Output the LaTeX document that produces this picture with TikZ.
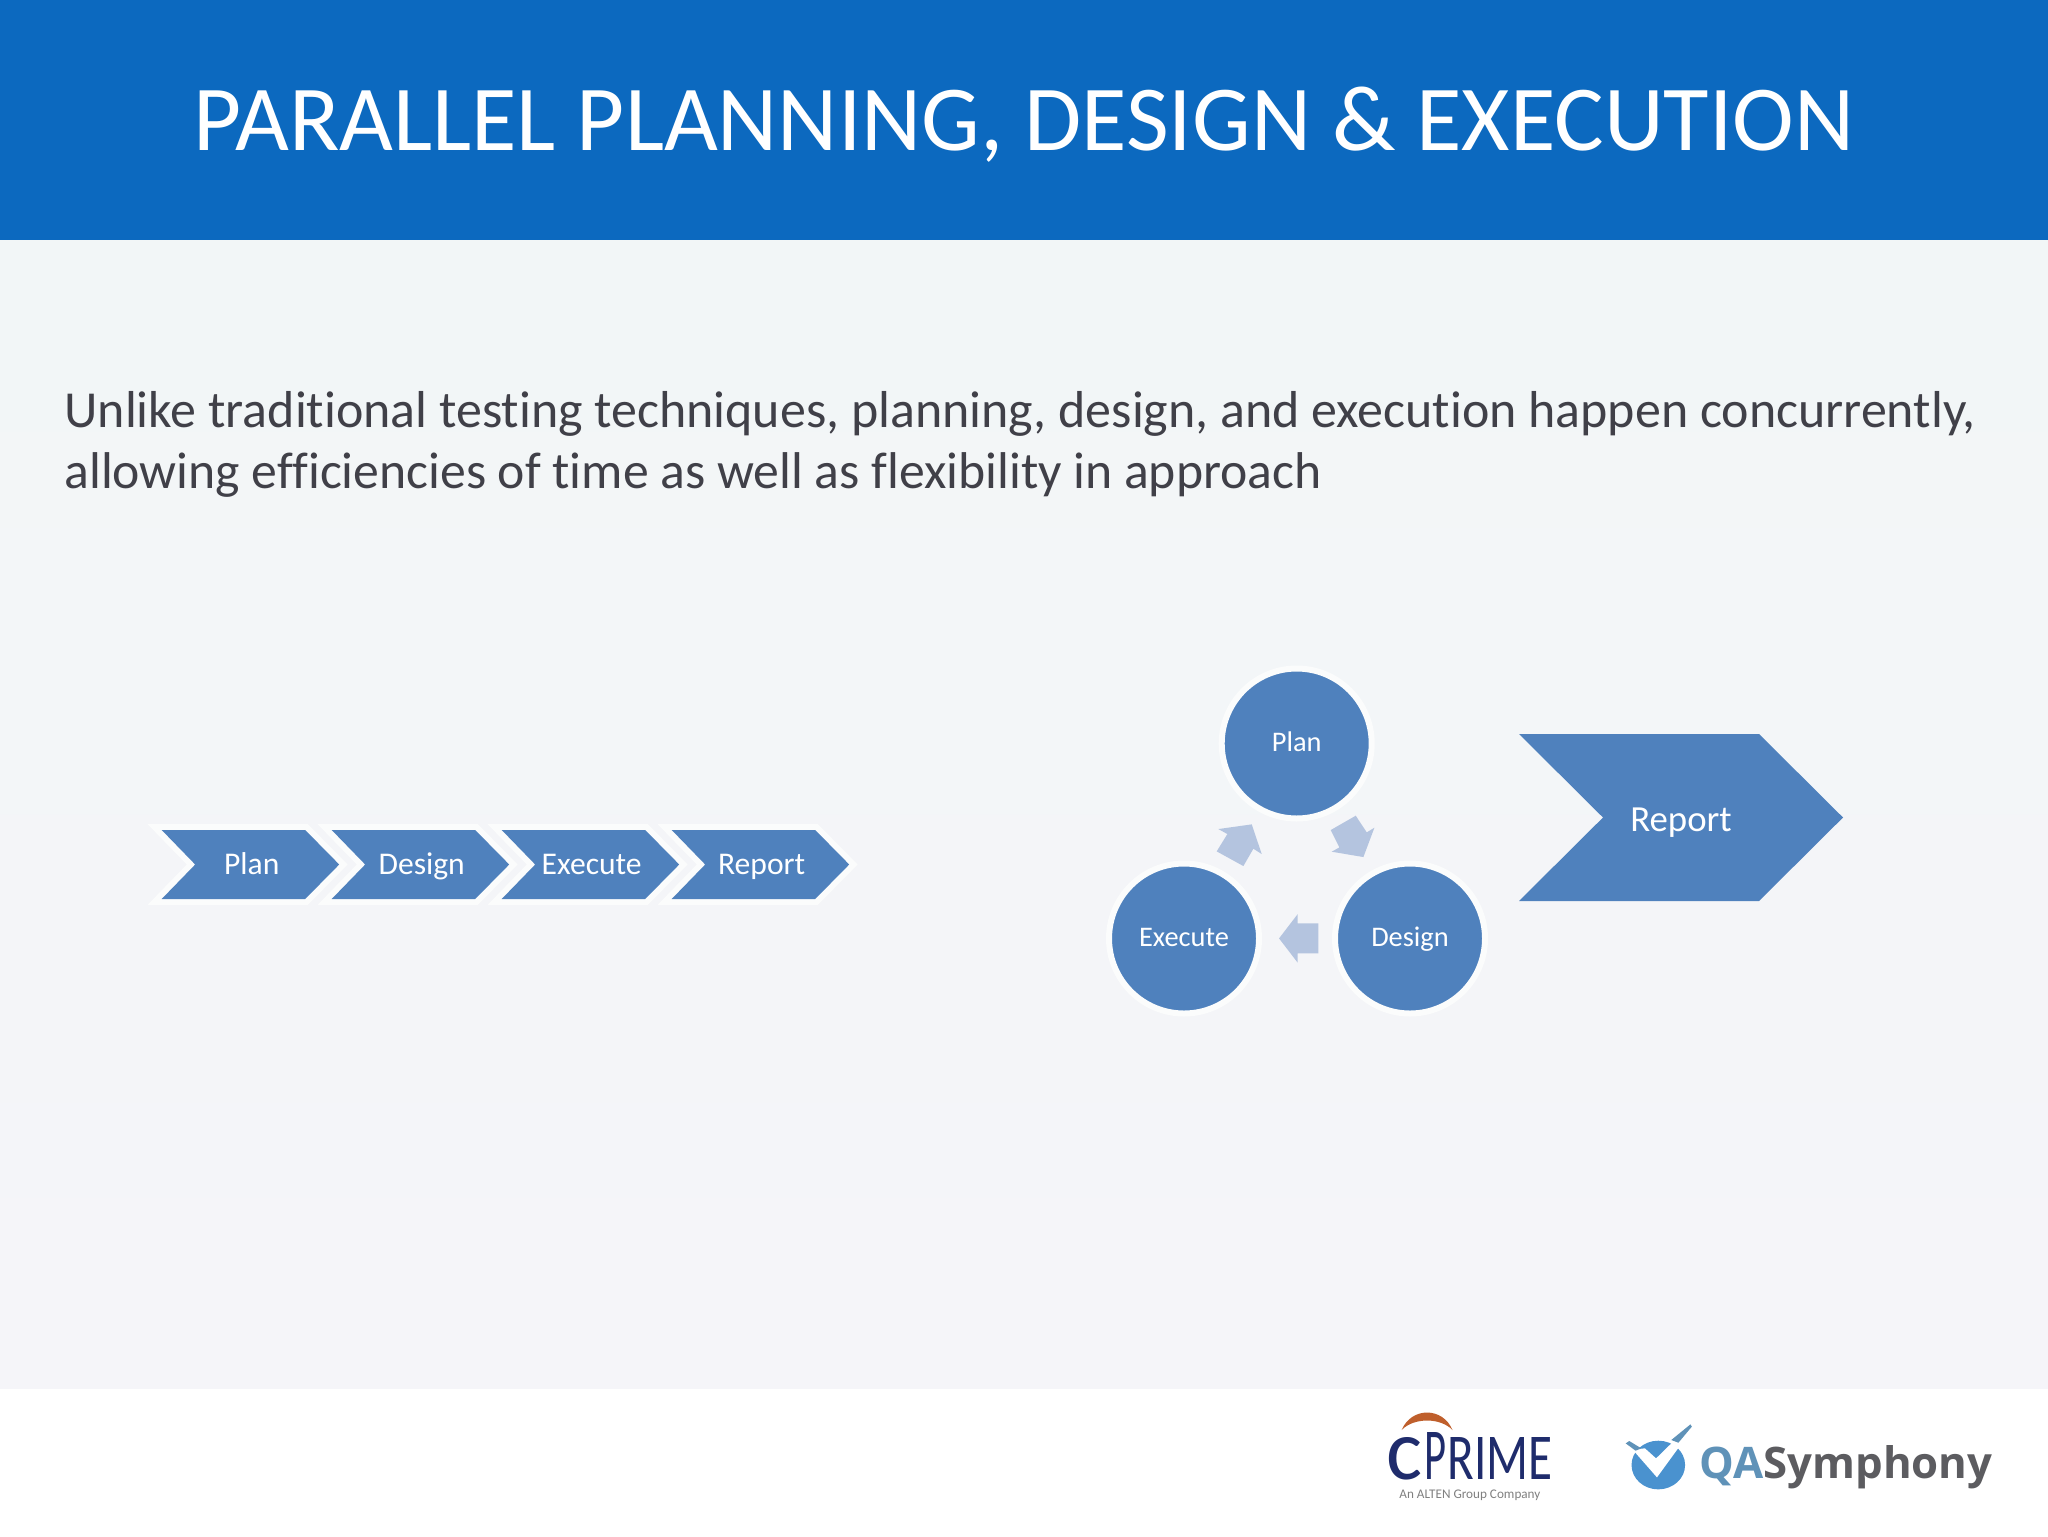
\documentclass[tikz,border=0pt]{standalone}
\usepackage{fontspec}
\setmainfont[Ligatures=NoCommon]{Carlito}
\newfontfamily\qafont{Open Sans}
\definecolor{banner}{HTML}{0C69BF}
\definecolor{bgtop}{HTML}{F2F6F7}
\definecolor{bgbot}{HTML}{F5F5F9}
\definecolor{chev}{HTML}{4F81BD}
\definecolor{halo}{HTML}{FBFCFC}
\definecolor{pale}{HTML}{B4C4DF}
\definecolor{bodytext}{HTML}{404048}
\definecolor{navy}{HTML}{1F2C6C}
\definecolor{rust}{HTML}{BF5F2C}
\definecolor{qablue}{HTML}{4A92CF}
\definecolor{qatext}{HTML}{5F92B8}
\definecolor{qagrey}{HTML}{5C5C60}
\newcommand{\fsz}[1]{\fontsize{#1}{#1}\selectfont}
\newcommand{\chevshape}[2]{(#1,#2) ++(0,-34.5) -- ++(143.5,0) -- ++(34,34.5) -- ++(-34,34.5) -- ++(-143.5,0) -- ++(33.5,-34.5) -- cycle}
\newcommand{\ringtext}[1]{\raisebox{0pt}[10pt][2.2pt]{#1}}
\tikzset{
  x=0.5pt,y=-0.5pt,
  chevlabel/.style={text=white,font=\fsz{15.8},inner sep=0pt,anchor=center},
  ring/.style={circle,minimum size=75pt,inner sep=0pt,fill=chev,draw=halo,line width=3pt,text=white,font=\fsz{14.2}},
  flowarrow/.style={fill=pale,draw=none},
}
\begin{document}
\begin{tikzpicture}
\useasboundingbox (0,0) rectangle (2048,1536);
\fill[white] (0,0) rectangle (2048,1536);
\shade[top color=bgtop,bottom color=bgbot] (0,240) rectangle (2048,1388);
\fill[banner] (0,0) rectangle (2048,240);
\node[text=white,font=\fsz{46.5},inner sep=0pt,anchor=base] (title) at (1024,150) {PARALLEL PLANNING, DESIGN \& EXECUTION};
\node[text=bodytext,font=\fsz{25.97},inner sep=0pt,anchor=base west] (line1) at (64,427) {Unlike traditional testing techniques, planning, design, and execution happen concurrently,};
\node[text=bodytext,font=\fsz{25.85},inner sep=0pt,anchor=base west] (line2) at (64,488) {allowing efficiencies of time as well as flexibility in approach};
% small chevrons
\foreach \x/\t/\nm in {161.7/Plan/a,331.7/Design/b,501.7/Execute/c,671.7/Report/d}{
  \draw[halo,line width=6pt,miter limit=10] \chevshape{\x}{864.5};
  \fill[chev] \chevshape{\x}{864.5};
  \node[chevlabel] (s\nm) at (\x+90,868) {\strut\t};
}
% big chevron
\fill[chev] (1519,734) -- (1759,734) -- (1843,817.5) -- (1759,901) -- (1519,901) -- (1603,817.5) -- cycle;
\node[text=white,font=\fsz{18.4},inner sep=0pt] (bigreport) at (1681,824) {\strut Report};
% cycle
\node[ring] (plan) at (1296.7,743.5) {\ringtext{Plan}};
\node[ring] (design) at (1410,938.5) {\ringtext{Design}};
\node[ring] (execute) at (1184,938.5) {\ringtext{Execute}};
\begin{scope}[shift={(1090,650)},x=0.1667pt,y=-0.1667pt]
\fill[flowarrow] (797,497) -- (722,540) -- (748,592) -- (725,605) -- (820,621) -- (853,533) -- (830,547) -- cycle;
\fill[flowarrow] (567,865) -- (623,792) -- (623,820) -- (685,820) -- (685,910) -- (623,910) -- (623,938) -- cycle;
\fill[flowarrow] (485,523) -- (385,537) -- (412,552) -- (380,604) -- (460,648) -- (490,596) -- (515,612) -- cycle;
\end{scope}
% logos, drawn in the crop's coordinates
\begin{scope}[shift={(1340,1380)},x=0.2232pt,y=-0.1667pt]
\fill[rust] (138,150) .. controls (160,80) and (230,80) .. (252,150) .. controls (225,112) and (165,112) .. cycle;
\fill[qablue] (713,255) ellipse [x radius=60, y radius=73];
\fill[white] (655,208) -- (683,205) -- (708,235) -- (750,180) -- (772,178) -- (710,292) -- cycle;
\fill[qatext] (742,180) -- (785,133) -- (788,140) -- (758,188) -- cycle;
\fill[qatext] (640,190) -- (648,183) -- (675,205) -- (662,212) -- cycle;
\end{scope}
\node[inner sep=0pt,anchor=base west,text=navy] (cprime) at (1386,1479) {\resizebox{18pt}{21pt}{c}\hspace{1pt}\resizebox{11pt}{23.5pt}{P}\hspace{0.5pt}\resizebox{52.5pt}{21pt}{RIME}};
\node[inner sep=0pt,anchor=base west,text=gray] (alten) at (1399,1498) {\resizebox{70.5pt}{!}{An ALTEN Group Company}};
\node[inner sep=0pt,anchor=base west] (qa) at (1699,1478) {\resizebox{146.5pt}{16.5pt}{\qafont\bfseries\textcolor{qatext}{QA}\textcolor{qagrey}{Symphony}}};
\end{tikzpicture}
\end{document}
